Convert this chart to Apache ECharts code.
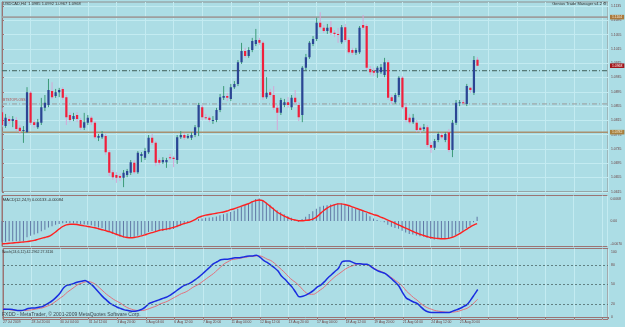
<!DOCTYPE html>
<html>
<head>
<meta charset="utf-8">
<title>USDCAD,H4</title>
<script src="https://cdn.jsdelivr.net/npm/echarts@6.0.0/dist/echarts.min.js"></script>
<style>
  html, body { margin: 0; padding: 0; background: #acdde5; }
  #chart { width: 625px; height: 327px; }
</style>
</head>
<body>
<div id="chart"></div>
<script>
// USDCAD H4 bars, one row per bar: [open, high, low, close]
const candles = [
  [1.0838,1.0850,1.0796,1.0802],[1.0799,1.0833,1.0794,1.0822],[1.0819,1.0827,1.0805,1.0813],[1.0813,1.0827,1.0796,1.0819],
  [1.0816,1.0824,1.0785,1.0791],[1.0794,1.0802,1.0777,1.0785],[1.0785,1.0799,1.0752,1.0788],[1.0782,1.0908,1.0780,1.0894],
  [1.0892,1.0897,1.0802,1.0808],[1.0810,1.0816,1.0794,1.0802],[1.0796,1.0819,1.0791,1.0810],[1.0808,1.0878,1.0802,1.0852],
  [1.0850,1.0886,1.0841,1.0864],[1.0858,1.0931,1.0852,1.0900],[1.0897,1.0922,1.0875,1.0880],[1.0883,1.0903,1.0878,1.0894],
  [1.0894,1.0906,1.0880,1.0900],[1.0903,1.0908,1.0872,1.0878],[1.0880,1.0886,1.0802,1.0824],[1.0830,1.0838,1.0810,1.0816],
  [1.0819,1.0836,1.0813,1.0827],[1.0830,1.0838,1.0810,1.0819],[1.0816,1.0822,1.0788,1.0794],[1.0794,1.0836,1.0788,1.0810],
  [1.0808,1.0830,1.0802,1.0822],[1.0822,1.0827,1.0802,1.0810],[1.0808,1.0813,1.0763,1.0768],[1.0766,1.0777,1.0757,1.0771],
  [1.0768,1.0785,1.0763,1.0777],[1.0771,1.0777,1.0718,1.0726],[1.0726,1.0732,1.0659,1.0668],[1.0670,1.0676,1.0648,1.0656],
  [1.0662,1.0670,1.0640,1.0654],[1.0659,1.0665,1.0645,1.0654],[1.0654,1.0676,1.0628,1.0668],[1.0662,1.0679,1.0656,1.0673],
  [1.0668,1.0704,1.0662,1.0698],[1.0696,1.0704,1.0665,1.0670],[1.0670,1.0729,1.0665,1.0724],[1.0715,1.0726,1.0698,1.0721],
  [1.0710,1.0738,1.0704,1.0729],[1.0726,1.0774,1.0721,1.0766],[1.0766,1.0777,1.0746,1.0752],[1.0752,1.0757,1.0687,1.0696],
  [1.0704,1.0710,1.0690,1.0696],[1.0698,1.0712,1.0693,1.0704],[1.0698,1.0710,1.0682,1.0704],[1.0712,1.0721,1.0704,1.0710],
  [1.0710,1.0715,1.0684,1.0707],[1.0704,1.0774,1.0693,1.0768],[1.0768,1.0785,1.0763,1.0774],[1.0774,1.0780,1.0760,1.0766],
  [1.0766,1.0777,1.0763,1.0771],[1.0766,1.0782,1.0760,1.0774],[1.0774,1.0802,1.0768,1.0796],[1.0796,1.0864,1.0771,1.0858],
  [1.0852,1.0858,1.0816,1.0824],[1.0824,1.0833,1.0816,1.0822],[1.0822,1.0827,1.0810,1.0816],[1.0813,1.0827,1.0805,1.0816],
  [1.0816,1.0850,1.0810,1.0844],[1.0844,1.0889,1.0838,1.0880],[1.0878,1.0911,1.0872,1.0883],[1.0883,1.0892,1.0869,1.0878],
  [1.0875,1.0917,1.0869,1.0908],[1.0908,1.0925,1.0903,1.0917],[1.0917,1.0984,1.0911,1.0978],[1.0978,1.1032,1.0973,1.1009],
  [1.1009,1.1018,1.0990,1.0995],[1.0995,1.1020,1.0990,1.1012],[1.1012,1.1046,1.1006,1.1037],[1.1029,1.1071,1.1023,1.1040],
  [1.1040,1.1046,1.1026,1.1032],[1.1032,1.1037,1.0872,1.0880],[1.0880,1.0936,1.0875,1.0892],[1.0894,1.0903,1.0880,1.0886],
  [1.0886,1.0911,1.0844,1.0850],[1.0850,1.0858,1.0788,1.0836],[1.0836,1.0878,1.0830,1.0872],[1.0858,1.0875,1.0852,1.0866],
  [1.0866,1.0880,1.0850,1.0858],[1.0852,1.0886,1.0844,1.0878],[1.0878,1.0900,1.0861,1.0866],[1.0858,1.0866,1.0813,1.0824],
  [1.0830,1.0967,1.0810,1.0962],[1.0962,1.1001,1.0956,1.0992],[1.0992,1.1037,1.0987,1.1032],[1.1029,1.1051,1.1023,1.1043],
  [1.1043,1.1102,1.1037,1.1088],[1.1088,1.1118,1.1071,1.1076],[1.1074,1.1082,1.1060,1.1065],[1.1065,1.1085,1.1057,1.1074],
  [1.1076,1.1093,1.1054,1.1060],[1.1060,1.1068,1.1048,1.1057],[1.1057,1.1074,1.1032,1.1054],[1.1034,1.1082,1.1029,1.1076],
  [1.1076,1.1085,1.1034,1.1040],[1.1040,1.1046,1.1001,1.1006],[1.1012,1.1018,1.0998,1.1004],[1.1004,1.1018,1.0998,1.1012],
  [1.1006,1.1079,1.1001,1.1074],[1.1082,1.1110,1.1068,1.1074],[1.1079,1.1085,1.0956,1.0962],[1.0959,1.0967,1.0942,1.0950],
  [1.0953,1.0962,1.0939,1.0948],[1.0948,1.0967,1.0934,1.0962],[1.0950,1.0973,1.0945,1.0964],[1.0942,1.0990,1.0936,1.0978],
  [1.0978,1.0984,1.0872,1.0878],[1.0880,1.0886,1.0861,1.0869],[1.0866,1.0892,1.0861,1.0886],[1.0886,1.0939,1.0880,1.0934],
  [1.0934,1.0939,1.0847,1.0852],[1.0852,1.0861,1.0810,1.0816],[1.0822,1.0833,1.0805,1.0810],[1.0810,1.0833,1.0805,1.0822],
  [1.0808,1.0816,1.0782,1.0788],[1.0794,1.0799,1.0780,1.0788],[1.0791,1.0805,1.0785,1.0796],[1.0796,1.0802,1.0740,1.0746],
  [1.0746,1.0754,1.0724,1.0738],[1.0738,1.0763,1.0732,1.0757],[1.0760,1.0782,1.0754,1.0777],[1.0774,1.0780,1.0763,1.0768],
  [1.0760,1.0782,1.0754,1.0777],[1.0782,1.0791,1.0726,1.0732],[1.0732,1.0816,1.0712,1.0808],[1.0808,1.0872,1.0802,1.0864],
  [1.0864,1.0872,1.0855,1.0866],[1.0866,1.0872,1.0861,1.0864],[1.0861,1.0917,1.0855,1.0911],[1.0906,1.0908,1.0892,1.0900],
  [1.0892,1.0995,1.0886,1.0984],[1.0985,1.0992,1.0967,1.0968]
];

// MACD(12,24,9): main line (histogram) and signal
const macdMain = [
  -0.0064,-0.0064,-0.0063,-0.0063,-0.0063,-0.0062,-0.0062,-0.0050,-0.0046,-0.0042,
  -0.0038,-0.0032,-0.0027,-0.0020,-0.0016,-0.0012,-0.0009,-0.0007,-0.0006,-0.0006,
  -0.0007,-0.0008,-0.0010,-0.0011,-0.0012,-0.0013,-0.0017,-0.0020,-0.0022,-0.0028,
  -0.0035,-0.0040,-0.0044,-0.0048,-0.0050,-0.0051,-0.0050,-0.0049,-0.0046,-0.0043,
  -0.0040,-0.0034,-0.0031,-0.0032,-0.0032,-0.0031,-0.0029,-0.0027,-0.0025,-0.0019,
  -0.0014,-0.0010,-0.0006,-0.0003,0.0001,0.0006,0.0008,0.0010,0.0011,0.0012,
  0.0014,0.0018,0.0021,0.0024,0.0028,0.0032,0.0038,0.0045,0.0050,0.0055,
  0.0062,0.0068,0.0070,0.0064,0.0057,0.0050,0.0041,0.0033,0.0027,0.0021,
  0.0015,0.0010,0.0005,-0.0002,0.0006,0.0013,0.0022,0.0030,0.0038,0.0044,
  0.0047,0.0049,0.0051,0.0053,0.0055,0.0054,0.0051,0.0046,0.0042,0.0038,
  0.0036,0.0034,0.0024,0.0015,0.0008,0.0003,-0.0001,-0.0004,-0.0012,-0.0018,
  -0.0022,-0.0024,-0.0030,-0.0036,-0.0040,-0.0042,-0.0045,-0.0047,-0.0048,-0.0052,
  -0.0055,-0.0057,-0.0056,-0.0055,-0.0054,-0.0055,-0.0050,-0.0043,-0.0036,-0.0030,
  -0.0022,-0.0015,-0.0004,0.00133
];
const macdSignal = [
  -0.0071,-0.0070,-0.0069,-0.0068,-0.0067,-0.0066,-0.0065,-0.0064,-0.0062,-0.0060,
  -0.0057,-0.0054,-0.0051,-0.0048,-0.0042,-0.0034,-0.0025,-0.0017,-0.0012,-0.0010,
  -0.0010,-0.0011,-0.0013,-0.0015,-0.0017,-0.0019,-0.0021,-0.0024,-0.0027,-0.0030,
  -0.0033,-0.0037,-0.0041,-0.0045,-0.0049,-0.0051,-0.0052,-0.0051,-0.0049,-0.0046,
  -0.0043,-0.0039,-0.0036,-0.0033,-0.0029,-0.0027,-0.0025,-0.0023,-0.0020,-0.0016,
  -0.0012,-0.0008,-0.0005,-0.0001,0.0004,0.0011,0.0015,0.0018,0.0020,0.0022,
  0.0024,0.0026,0.0028,0.0031,0.0035,0.0038,0.0042,0.0046,0.0050,0.0054,
  0.0059,0.0063,0.0065,0.0063,0.0055,0.0046,0.0037,0.0028,0.0021,0.0015,
  0.0010,0.0006,0.0003,0.0001,0.0001,0.0002,0.0003,0.0006,0.0012,0.0022,
  0.0032,0.0040,0.0046,0.0050,0.0053,0.0053,0.0051,0.0048,0.0044,0.0040,
  0.0036,0.0032,0.0028,0.0024,0.0020,0.0017,0.0012,0.0008,0.0003,-0.0002,
  -0.0007,-0.0012,-0.0017,-0.0022,-0.0027,-0.0032,-0.0037,-0.0041,-0.0045,-0.0048,
  -0.0051,-0.0053,-0.0054,-0.0055,-0.0055,-0.0054,-0.0051,-0.0046,-0.0040,-0.0033,
  -0.0026,-0.0019,-0.0013,-0.00084
];

// Stochastic(24,6,12): main and signal
const stochMain = [
  12,12,12,11,10,10,11,13,14,14, 15,16,19,22,26,31,37,45,49,50,
  52,54,55,56,53,49,43,37,31,26, 21,18,15,13,11,10,9,9,10,12,
  16,21,23,25,27,29,31,34,38,42, 46,49,51,54,58,62,67,72,77,82,
  85,88,89,89,90,91,91,92,93,94, 94,95,92,87,84,80,76,71,63,58,
  52,46,38,31,32,34,37,41,46,49, 54,60,65,70,75,85,86,86,84,82,
  82,81,81,78,74,71,69,67,63,58, 53,47,37,29,26,23,21,16,11,8,
  7,7,7,7,7,7,9,11,13,16, 19,26,34,42.2962
];
const stochSignal = [
  13,12,11,10.5,10,9.7,10,10.5,11,12, 13,14,16,18,21,25,29,33,38,42,
  46,50,52,54,54.5,53,50,45,40,35, 31,27,24,21,17,14,12,10.5,10,10,
  11,13,15,17,20,22,24,27,30,33, 36,38,41,45,48,51,55,59,63,67,
  72,77,82,85,88,89,90,91,92,93, 93.5,94,94,92,89,87,83,78,73,68,
  62,57,53,48,42,37,35,35,38,42, 46,52,57,62,66,70,74,77,79,81,
  82,81,80,78,75,72,70,67,64,60, 56,52,47,40,35,30,26,21,17,14,
  12,10,9,8.2,7.6,7.2,7.5,8.2,9.5,11.5, 13.3,17,22,27.3116
];

// time labels, one every 8 bars
const timeLabels = [
  '27 Jul 2009', '28 Jul 20:00', '30 Jul 04:00', '31 Jul 12:00', '3 Aug 20:00', '5 Aug 04:00',
  '6 Aug 12:00', '7 Aug 20:00', '11 Aug 04:00', '12 Aug 12:00', '13 Aug 20:00', '17 Aug 04:00',
  '18 Aug 12:00', '19 Aug 20:00', '21 Aug 04:00', '24 Aug 12:00', '25 Aug 20:00'
];
const priceTicks = [1.0615, 1.0655, 1.0695, 1.0735, 1.0775, 1.0815, 1.0855, 1.0895,
  1.0935, 1.0975, 1.1015, 1.1055, 1.1095, 1.1135];
const macdTicks = [-0.0070, 0, 0.0068];
const stochTicks = [0, 20, 50, 80, 100];
const stochLevels = [20, 50, 80];

// horizontal price levels
const levelTop = 1.1104;
const levelTarget = 1.0954;
const bidPrice = 1.0968;
const levelStop = 1.0861;
const levelLow = 1.0782;

const priceMin = 1.0615;
const priceMax = 1.11464;
const barSlots = 169.5;

const gridLine = '#c3ebf1';
const frame = '#9b7474';
const axisText = '#6a3c3c';
const narrow = '"Liberation Sans Narrow", "Liberation Sans", sans-serif';
const plain = '"Liberation Sans", Arial, sans-serif';

function renderCandle(params, api) {
  const i = api.value(0);
  const o = api.value(1), h = api.value(2), l = api.value(3), c = api.value(4);
  const up = c >= o;
  const pHigh = api.coord([i, h]);
  const pLow = api.coord([i, l]);
  const pOpen = api.coord([i, o]);
  const pClose = api.coord([i, c]);
  const w = api.size([1, 0])[0] * 0.62;
  const top = Math.min(pOpen[1], pClose[1]);
  const height = Math.max(Math.abs(pOpen[1] - pClose[1]), 1);
  return {
    type: 'group',
    children: [
      {
        type: 'line',
        shape: { x1: pHigh[0], y1: pHigh[1], x2: pLow[0], y2: pLow[1] },
        style: { stroke: up ? '#3d9b79' : '#d6a6d6', lineWidth: 1 }
      },
      {
        type: 'rect',
        shape: { x: pOpen[0] - w / 2, y: top, width: w, height: height },
        style: { fill: up ? '#2b4594' : '#f0203c' }
      }
    ]
  };
}

function timeAxis(gi, withLabels) {
  return {
    type: 'value',
    gridIndex: gi,
    min: 0,
    max: barSlots,
    interval: 8,
    axisLine: { show: withLabels, lineStyle: { color: frame } },
    axisTick: { show: withLabels, length: 2, lineStyle: { color: frame } },
    axisLabel: {
      show: withLabels,
      formatter: function (v) { return timeLabels[v / 8] || ''; },
      align: 'left',
      fontSize: 3.4,
      color: axisText,
      fontFamily: narrow,
      margin: 1.5
    },
    splitLine: { show: true, lineStyle: { color: gridLine, width: 1 } }
  };
}

// a horizontal price level drawn as a two-point line across the price panel
function levelSeries(value, lineStyle, box) {
  const s = {
    type: 'line',
    xAxisIndex: 0,
    yAxisIndex: 0,
    data: [[0, value], [barSlots, value]],
    symbol: 'none',
    silent: true,
    lineStyle: lineStyle,
    z: 2
  };
  if (box) {
    s.endLabel = {
      show: true,
      distance: 2,
      formatter: value.toFixed(4),
      backgroundColor: box[0],
      color: box[1],
      fontSize: 3.4,
      fontFamily: narrow,
      padding: [0.8, 2]
    };
  }
  return s;
}

const last = candles[candles.length - 1];
const textStyle = { fontSize: 4, color: '#303030', fontWeight: 'normal', fontFamily: plain };

let myChart = echarts.init(document.getElementById('chart'));

const stopSeries = levelSeries(levelStop, { color: '#9a9a9a', width: 1, type: [5, 2, 1, 2] });
stopSeries.symbol = 'circle';
stopSeries.symbolSize = 0.01;
stopSeries.showSymbol = true;
stopSeries.data = [
  { value: [0, levelStop], label: { show: true, position: [1, -5], formatter: 'BTSTOPLOSS', color: '#b04848', fontSize: 3.4, fontFamily: narrow } },
  [barSlots, levelStop]
];

let option = {
  animation: false,
  backgroundColor: '#acdde5',
  title: [
    { text: 'USDCAD,H4  ' + last.map(v => v.toFixed(4)).join(' '), left: 3, top: 2.2, padding: 0, textStyle: textStyle },
    { text: 'Genius Trade Manager v4.2 \u2699', right: 18, top: 2, padding: 0, textStyle: textStyle },
    { text: 'MACD(12,24,9) ' + macdMain[macdMain.length - 1].toFixed(5) + ' ' + macdSignal[macdSignal.length - 1].toFixed(5),
      left: 3, top: 198, padding: 0, textStyle: textStyle },
    { text: 'Stoch(24,6,12) ' + stochMain[stochMain.length - 1].toFixed(4) + ' ' + stochSignal[stochSignal.length - 1].toFixed(4),
      left: 2, top: 250.3, padding: 0, textStyle: Object.assign({}, textStyle, { fontSize: 3.6 }) },
    { text: 'FXDD - MetaTrader, \u00a9 2001-2009 MetaQuotes Software Corp.', left: 2, top: 312.3, padding: 0,
      textStyle: Object.assign({}, textStyle, { fontSize: 5, color: '#3c4850' }) }
  ],
  grid: [
    { left: 2, right: 17, top: 2, height: 189.8, show: true, borderColor: '#8e8e8e', borderWidth: 1 },
    { left: 2, right: 17, top: 195.5, height: 51, show: true, borderColor: frame, borderWidth: 1 },
    { left: 2, right: 17, top: 248.5, height: 71, show: true, borderColor: frame, borderWidth: 1 }
  ],
  xAxis: [timeAxis(0, false), timeAxis(1, false), timeAxis(2, true)],
  yAxis: [
    {
      type: 'value', gridIndex: 0, position: 'right', min: priceMin, max: priceMax,
      axisLine: { show: true, lineStyle: { color: frame } },
      axisTick: { show: true, length: 2, customValues: priceTicks, lineStyle: { color: frame } },
      axisLabel: { customValues: priceTicks, formatter: v => v.toFixed(4), fontSize: 3.4, color: axisText, fontFamily: narrow, margin: 3 },
      splitLine: { show: true, lineStyle: { color: gridLine } }
    },
    {
      type: 'value', gridIndex: 1, position: 'right', min: -0.0079, max: 0.0079,
      axisLine: { show: true, lineStyle: { color: frame } },
      axisTick: { show: true, length: 2, customValues: macdTicks, lineStyle: { color: frame } },
      axisLabel: { customValues: macdTicks, formatter: v => (v === 0 ? '0.00' : v.toFixed(4)), fontSize: 3.4, color: axisText, fontFamily: narrow, margin: 3 },
      splitLine: { show: false }
    },
    {
      type: 'value', gridIndex: 2, position: 'right', min: -3.85, max: 105.4,
      axisLine: { show: true, lineStyle: { color: frame } },
      axisTick: { show: true, length: 2, customValues: stochTicks, lineStyle: { color: frame } },
      axisLabel: { customValues: stochTicks, formatter: v => String(v), fontSize: 3.4, color: axisText, fontFamily: narrow, margin: 3 },
      splitLine: { show: false }
    }
  ],
  series: [
    levelSeries(levelTop, { color: '#9e9e9e', width: 1.6, type: 'solid' }, ['#a9793d', '#f6ecd6']),
    levelSeries(levelTarget, { color: '#3f5f5a', width: 1, type: [5, 2, 1, 2] }),
    levelSeries(bidPrice, { color: 'rgba(0,0,0,0)', width: 0 }, ['#a3161a', '#ffffff']),
    stopSeries,
    levelSeries(levelLow, { color: '#a89070', width: 1.5, type: 'solid' }, ['#a8803e', '#f6ecd6']),
    {
      name: 'USDCAD',
      type: 'custom',
      xAxisIndex: 0,
      yAxisIndex: 0,
      renderItem: renderCandle,
      clip: true,
      encode: { x: 0, y: [1, 2, 3, 4] },
      data: candles.map((d, i) => [i, d[0], d[1], d[2], d[3]]),
      z: 3
    },
    {
      name: 'MACD',
      type: 'bar',
      xAxisIndex: 1,
      yAxisIndex: 1,
      barWidth: 1,
      itemStyle: { color: '#5f76a4' },
      data: macdMain.map((v, i) => [i, v])
    },
    {
      name: 'Signal',
      type: 'line',
      xAxisIndex: 1,
      yAxisIndex: 1,
      smooth: 0.3,
      showSymbol: false,
      lineStyle: { color: '#ff2020', width: 1.4 },
      data: macdSignal.map((v, i) => [i, v])
    },
    {
      name: 'Stoch signal',
      type: 'line',
      xAxisIndex: 2,
      yAxisIndex: 2,
      smooth: 0.3,
      showSymbol: false,
      lineStyle: { color: '#e4707c', width: 1 },
      data: stochSignal.map((v, i) => [i, v]),
      markLine: {
        symbol: 'none',
        silent: true,
        label: { show: false },
        lineStyle: { color: '#4e6a6a', width: 0.8, type: [2, 2] },
        data: stochLevels.map(v => ({ yAxis: v }))
      }
    },
    {
      name: 'Stoch main',
      type: 'line',
      xAxisIndex: 2,
      yAxisIndex: 2,
      smooth: 0.3,
      showSymbol: false,
      lineStyle: { color: '#1a2de0', width: 1.5 },
      data: stochMain.map((v, i) => [i, v])
    }
  ]
};

myChart.setOption(option);

window.addEventListener('resize', function () {
  myChart.resize();
});
</script>
</body>
</html>
